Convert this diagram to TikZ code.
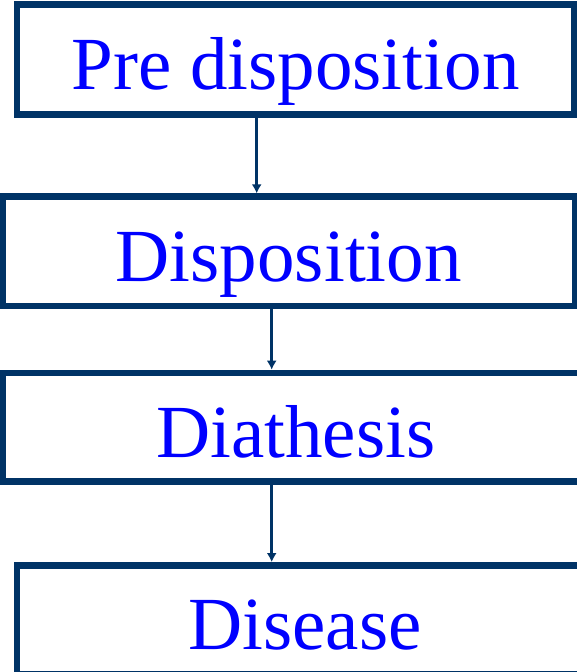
\documentclass[tikz,border=0pt]{standalone}
\usepackage{fontspec}
\setmainfont{Liberation Serif}
\usepackage{tikz}
\usetikzlibrary{arrows.meta}

\tikzset{
    stagebox/.style={draw=boxblue, line width=6.5pt, rectangle, inner sep=0pt,
        text=blue, font=\fontsize{75}{80}\selectfont, text height=60pt, text depth=0pt},
    flow/.style={draw=boxblue, line width=2.8pt, -{Latex[length=9pt,width=10pt]}}
}

\begin{document}
\begin{tikzpicture}[x=1pt,y=-1pt]
        \definecolor{boxblue}{RGB}{0,51,102}

        \useasboundingbox (0,0) rectangle (577,672);
        \clip (0,0) rectangle (577,672);

        \node[stagebox, minimum width=557pt, minimum height=110pt] (predisp) at (295.5,59.5) {Pre disposition};
        \node[stagebox, minimum width=572.5pt, minimum height=109.3pt] (disp) at (288.75,251.3) {Disposition};
        \node[stagebox, minimum width=586.5pt, minimum height=108.7pt] (diath) at (295.75,427.3) {Diathesis};
        \node[stagebox, minimum width=576pt, minimum height=108.7pt] (disease) at (305,619.7) {Disease};

        \coordinate (ax1) at (256.7, 0);
        \coordinate (ax2) at (271.7, 0);

        \draw[flow] (predisp.south -| ax1) -- (disp.north -| ax1);
        \draw[flow] (disp.south -| ax2) -- (diath.north -| ax2);
        \draw[flow] (diath.south -| ax2) -- (disease.north -| ax2);
    \end{tikzpicture}
\end{document}
